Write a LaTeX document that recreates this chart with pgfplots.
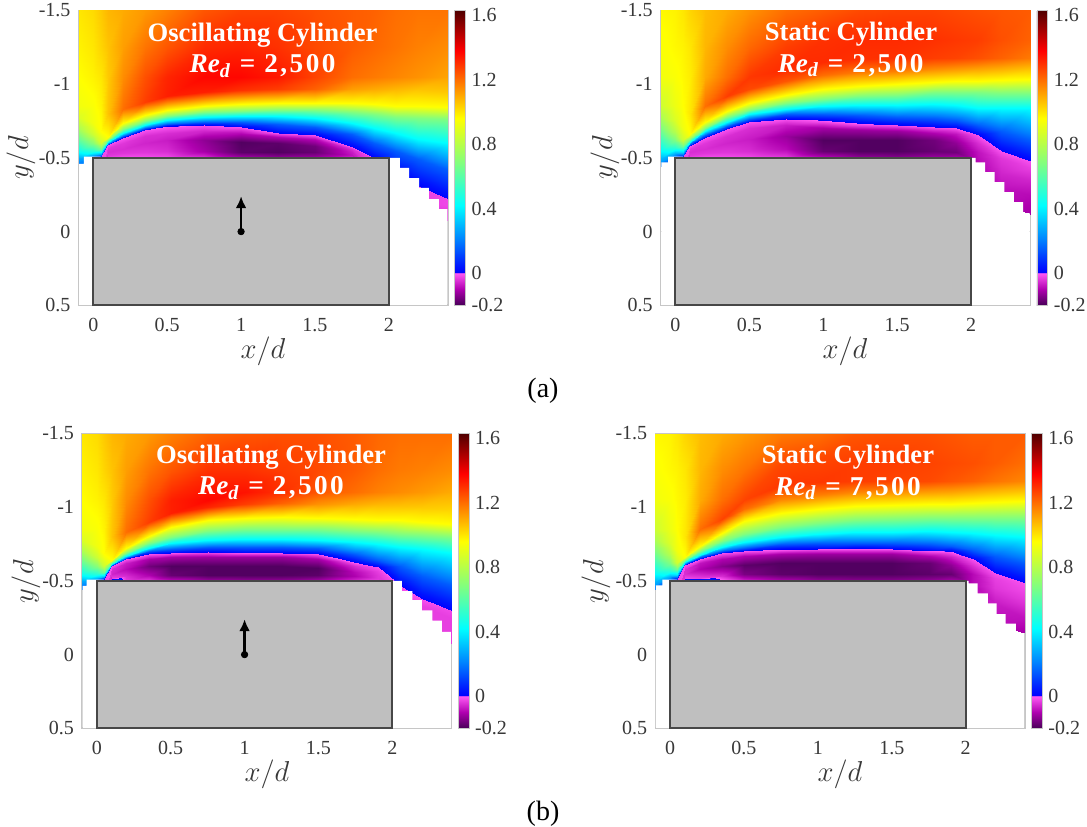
\documentclass[border=0pt]{standalone}
\usepackage[no-math]{fontspec}
\setmainfont{Liberation Serif}
\usepackage{pgfplots}
\usepackage{pgfplotstable}
\pgfplotsset{compat=1.18}
\usetikzlibrary{arrows.meta}
\pgfplotstableread[row sep=\\,header=false]{
-.1 -1.5 1\\ -.1 -1.25 .98\\ -.1 -1.05 .96\\ -.1 -.85 .93\\ -.1 -.78 .88\\ -.1 -.7 .78\\ -.1 -.62 .62\\ -.1 -.55 .45\\ -.1 -.5 .28\\ -.1 -.47 .22\\ -.1 -.46 .2\\ -.1 -.455 .2\\ -.1 -.45 .2\\ -.1 -.445 .2\\
0 -1.5 1.02\\ 0 -1.25 1\\ 0 -1.05 .98\\ 0 -.85 .95\\ 0 -.74 .93\\ 0 -.66 .85\\ 0 -.6 .7\\ 0 -.55 .5\\ 0 -.52 .3\\ 0 -.51 .25\\ 0 -.4 .2\\ 0 -.3 .2\\ 0 -.2 .2\\ 0 -.1 .2\\
.05 -1.5 1.05\\ .05 -1.25 1.03\\ .05 -1.05 1\\ .05 -.85 .98\\ .05 -.68 .96\\ .05 -.6 .85\\ .05 -.56 .65\\ .05 -.53 .35\\ .05 -.505 .02\\ .05 -.503 -.02\\ .05 -.4 -.03\\ .05 -.3 -.03\\ .05 -.2 -.03\\ .05 -.1 -.03\\
.1 -1.5 1.08\\ .1 -1.25 1.06\\ .1 -1.05 1.05\\ .1 -.8 1.06\\ .1 -.645 .96\\ .1 -.62 .68\\ .1 -.605 .42\\ .1 -.595 .15\\ .1 -.588 .005\\ .1 -.586 -.01\\ .1 -.57 -.04\\ .1 -.54 -.05\\ .1 -.52 -.04\\ .1 -.5 -.02\\
.2 -1.5 1.1\\ .2 -1.25 1.12\\ .2 -1.05 1.15\\ .2 -.83 1.2\\ .2 -.735 .96\\ .2 -.695 .68\\ .2 -.67 .42\\ .2 -.65 .15\\ .2 -.635 .005\\ .2 -.633 -.01\\ .2 -.6 -.04\\ .2 -.56 -.05\\ .2 -.53 -.04\\ .2 -.5 -.01\\
.35 -1.5 1.13\\ .35 -1.25 1.19\\ .35 -1.05 1.25\\ .35 -.88 1.28\\ .35 -.79 .96\\ .35 -.75 .68\\ .35 -.725 .42\\ .35 -.705 .15\\ .35 -.69 .005\\ .35 -.688 -.01\\ .35 -.65 -.05\\ .35 -.6 -.06\\ .35 -.54 -.04\\ .35 -.5 -.01\\
.5 -1.5 1.17\\ .5 -1.25 1.24\\ .5 -1.05 1.32\\ .5 -.92 1.33\\ .5 -.825 .96\\ .5 -.785 .68\\ .5 -.755 .42\\ .5 -.73 .15\\ .5 -.715 .005\\ .5 -.713 -.01\\ .5 -.67 -.05\\ .5 -.62 -.07\\ .5 -.55 -.05\\ .5 -.5 -.015\\
.75 -1.5 1.24\\ .75 -1.25 1.31\\ .75 -1.05 1.37\\ .75 -.95 1.33\\ .75 -.855 .96\\ .75 -.81 .68\\ .75 -.775 .42\\ .75 -.745 .15\\ .75 -.724 .005\\ .75 -.722 -.01\\ .75 -.68 -.06\\ .75 -.62 -.13\\ .75 -.55 -.11\\ .75 -.5 -.04\\
1 -1.5 1.27\\ 1 -1.25 1.32\\ 1 -1.05 1.37\\ 1 -.96 1.3\\ 1 -.865 .96\\ 1 -.815 .68\\ 1 -.785 .42\\ 1 -.745 .15\\ 1 -.712 .005\\ 1 -.71 -.01\\ 1 -.67 -.09\\ 1 -.61 -.19\\ 1 -.54 -.18\\ 1 -.5 -.1\\
1.25 -1.5 1.27\\ 1.25 -1.25 1.3\\ 1.25 -1.05 1.34\\ 1.25 -.97 1.28\\ 1.25 -.87 .96\\ 1.25 -.825 .68\\ 1.25 -.785 .42\\ 1.25 -.73 .15\\ 1.25 -.672 .005\\ 1.25 -.67 -.01\\ 1.25 -.64 -.1\\ 1.25 -.6 -.18\\ 1.25 -.54 -.19\\ 1.25 -.5 -.12\\
1.5 -1.5 1.25\\ 1.5 -1.25 1.26\\ 1.5 -1.05 1.27\\ 1.5 -.97 1.22\\ 1.5 -.875 .96\\ 1.5 -.825 .68\\ 1.5 -.77 .42\\ 1.5 -.71 .15\\ 1.5 -.657 .005\\ 1.5 -.655 -.01\\ 1.5 -.63 -.09\\ 1.5 -.58 -.16\\ 1.5 -.54 -.17\\ 1.5 -.5 -.11\\
1.75 -1.5 1.23\\ 1.75 -1.25 1.23\\ 1.75 -1.05 1.2\\ 1.75 -.97 1.12\\ 1.75 -.875 .96\\ 1.75 -.81 .68\\ 1.75 -.74 .42\\ 1.75 -.66 .15\\ 1.75 -.577 .005\\ 1.75 -.575 -.01\\ 1.75 -.56 -.05\\ 1.75 -.54 -.07\\ 1.75 -.52 -.08\\ 1.75 -.5 -.05\\
1.9 -1.5 1.22\\ 1.9 -1.25 1.21\\ 1.9 -1.05 1.18\\ 1.9 -.97 1.1\\ 1.9 -.865 .96\\ 1.9 -.795 .68\\ 1.9 -.7 .42\\ 1.9 -.6 .15\\ 1.9 -.5 .005\\ 1.9 -.498 -.01\\ 1.9 -.4 -.05\\ 1.9 -.3 -.05\\ 1.9 -.2 -.05\\ 1.9 -.1 -.05\\
2.05 -1.5 1.2\\ 2.05 -1.25 1.19\\ 2.05 -1.05 1.16\\ 2.05 -.97 1.08\\ 2.05 -.855 .96\\ 2.05 -.78 .68\\ 2.05 -.67 .42\\ 2.05 -.55 .15\\ 2.05 -.4 .005\\ 2.05 -.398 -.01\\ 2.05 -.3 -.03\\ 2.05 -.2 -.03\\ 2.05 -.1 -.03\\ 2.05 0 -.03\\
2.2 -1.5 1.19\\ 2.2 -1.25 1.17\\ 2.2 -1.05 1.14\\ 2.2 -.97 1.06\\ 2.2 -.85 .96\\ 2.2 -.77 .68\\ 2.2 -.63 .42\\ 2.2 -.49 .15\\ 2.2 -.31 .005\\ 2.2 -.308 -.02\\ 2.2 -.28 -.03\\ 2.2 -.2 -.03\\ 2.2 -.1 -.03\\ 2.2 0 -.03\\
2.4 -1.5 1.19\\ 2.4 -1.25 1.15\\ 2.4 -1.05 1.11\\ 2.4 -.95 1.05\\ 2.4 -.845 .96\\ 2.4 -.765 .68\\ 2.4 -.6 .42\\ 2.4 -.42 .15\\ 2.4 -.22 .005\\ 2.4 -.218 -.02\\ 2.4 -.18 -.02\\ 2.4 -.14 -.03\\ 2.4 -.11 -.03\\ 2.4 -.08 -.03\\
}\dataA
\pgfplotstableread[row sep=\\,header=false]{
-.1 -1.5 .97\\ -.1 -1.25 .95\\ -.1 -1.05 .93\\ -.1 -.85 .85\\ -.1 -.78 .78\\ -.1 -.7 .68\\ -.1 -.62 .55\\ -.1 -.55 .42\\ -.1 -.5 .3\\ -.1 -.47 .25\\ -.1 -.465 .2\\ -.1 -.46 .2\\ -.1 -.455 .2\\ -.1 -.45 .2\\
0 -1.5 .98\\ 0 -1.25 .97\\ 0 -1.05 .95\\ 0 -.85 .92\\ 0 -.76 .88\\ 0 -.68 .8\\ 0 -.62 .68\\ 0 -.57 .5\\ 0 -.53 .3\\ 0 -.51 .2\\ 0 -.4 .1\\ 0 -.3 .1\\ 0 -.2 .1\\ 0 -.1 .1\\
.05 -1.5 1\\ .05 -1.25 .98\\ .05 -1.05 .97\\ .05 -.85 .96\\ .05 -.7 .93\\ .05 -.62 .85\\ .05 -.58 .65\\ .05 -.54 .35\\ .05 -.505 .02\\ .05 -.503 -.02\\ .05 -.4 -.03\\ .05 -.3 -.03\\ .05 -.2 -.03\\ .05 -.1 -.03\\
.1 -1.5 1.03\\ .1 -1.25 1\\ .1 -1.05 .99\\ .1 -.8 1\\ .1 -.665 .96\\ .1 -.63 .68\\ .1 -.61 .42\\ .1 -.595 .15\\ .1 -.58 .005\\ .1 -.578 -.01\\ .1 -.56 -.04\\ .1 -.54 -.05\\ .1 -.52 -.04\\ .1 -.5 -.02\\
.2 -1.5 1.07\\ .2 -1.25 1.08\\ .2 -1.05 1.1\\ .2 -.85 1.2\\ .2 -.745 .96\\ .2 -.7 .68\\ .2 -.68 .42\\ .2 -.655 .15\\ .2 -.635 .005\\ .2 -.633 -.01\\ .2 -.6 -.04\\ .2 -.56 -.05\\ .2 -.53 -.04\\ .2 -.5 -.01\\
.35 -1.5 1.1\\ .35 -1.25 1.15\\ .35 -1.05 1.2\\ .35 -.92 1.28\\ .35 -.82 .96\\ .35 -.775 .68\\ .35 -.745 .42\\ .35 -.715 .15\\ .35 -.695 .005\\ .35 -.693 -.01\\ .35 -.65 -.05\\ .35 -.6 -.06\\ .35 -.54 -.04\\ .35 -.5 -.01\\
.5 -1.5 1.14\\ .5 -1.25 1.21\\ .5 -1.05 1.29\\ .5 -.97 1.26\\ .5 -.875 .96\\ .5 -.825 .68\\ .5 -.795 .42\\ .5 -.765 .15\\ .5 -.745 .005\\ .5 -.743 -.01\\ .5 -.7 -.05\\ .5 -.63 -.07\\ .5 -.55 -.05\\ .5 -.5 -.015\\
.75 -1.5 1.2\\ .75 -1.25 1.28\\ .75 -1.1 1.31\\ .75 -1.02 1.24\\ .75 -.93 .96\\ .75 -.87 .68\\ .75 -.83 .42\\ .75 -.795 .15\\ .75 -.767 .005\\ .75 -.765 -.01\\ .75 -.72 -.07\\ .75 -.65 -.12\\ .75 -.56 -.09\\ .75 -.5 -.03\\
1 -1.5 1.23\\ 1 -1.3 1.3\\ 1 -1.15 1.31\\ 1 -1.06 1.2\\ 1 -.965 .96\\ 1 -.9 .68\\ 1 -.85 .42\\ 1 -.8 .15\\ 1 -.755 .005\\ 1 -.753 -.01\\ 1 -.7 -.11\\ 1 -.62 -.19\\ 1 -.55 -.17\\ 1 -.5 -.08\\
1.25 -1.5 1.26\\ 1.25 -1.3 1.31\\ 1.25 -1.17 1.3\\ 1.25 -1.08 1.18\\ 1.25 -.985 .96\\ 1.25 -.92 .68\\ 1.25 -.86 .42\\ 1.25 -.79 .15\\ 1.25 -.735 .005\\ 1.25 -.733 -.01\\ 1.25 -.69 -.12\\ 1.25 -.62 -.19\\ 1.25 -.55 -.19\\ 1.25 -.5 -.12\\
1.5 -1.5 1.27\\ 1.5 -1.3 1.31\\ 1.5 -1.18 1.3\\ 1.5 -1.09 1.17\\ 1.5 -1 .96\\ 1.5 -.93 .68\\ 1.5 -.86 .42\\ 1.5 -.78 .15\\ 1.5 -.722 .005\\ 1.5 -.72 -.01\\ 1.5 -.68 -.12\\ 1.5 -.62 -.19\\ 1.5 -.55 -.19\\ 1.5 -.5 -.13\\
1.75 -1.5 1.27\\ 1.75 -1.3 1.3\\ 1.75 -1.18 1.28\\ 1.75 -1.1 1.15\\ 1.75 -1.015 .96\\ 1.75 -.945 .68\\ 1.75 -.865 .42\\ 1.75 -.77 .15\\ 1.75 -.71 .005\\ 1.75 -.708 -.01\\ 1.75 -.67 -.1\\ 1.75 -.62 -.16\\ 1.75 -.55 -.17\\ 1.75 -.5 -.11\\
1.9 -1.5 1.26\\ 1.9 -1.3 1.29\\ 1.9 -1.18 1.27\\ 1.9 -1.1 1.13\\ 1.9 -1.02 .96\\ 1.9 -.945 .68\\ 1.9 -.86 .42\\ 1.9 -.76 .15\\ 1.9 -.702 .005\\ 1.9 -.7 -.01\\ 1.9 -.66 -.08\\ 1.9 -.6 -.13\\ 1.9 -.54 -.16\\ 1.9 -.5 -.1\\
2.05 -1.5 1.25\\ 2.05 -1.3 1.28\\ 2.05 -1.18 1.25\\ 2.05 -1.1 1.11\\ 2.05 -1.025 .96\\ 2.05 -.945 .68\\ 2.05 -.84 .42\\ 2.05 -.72 .15\\ 2.05 -.655 .005\\ 2.05 -.653 -.01\\ 2.05 -.6 -.05\\ 2.05 -.54 -.08\\ 2.05 -.48 -.09\\ 2.05 -.4 -.08\\
2.2 -1.5 1.24\\ 2.2 -1.3 1.25\\ 2.2 -1.18 1.22\\ 2.2 -1.1 1.09\\ 2.2 -1.03 .96\\ 2.2 -.94 .68\\ 2.2 -.84 .42\\ 2.2 -.68 .15\\ 2.2 -.55 .005\\ 2.2 -.548 -.01\\ 2.2 -.5 -.04\\ 2.2 -.4 -.06\\ 2.2 -.3 -.08\\ 2.2 -.2 -.09\\
2.4 -1.5 1.23\\ 2.4 -1.3 1.22\\ 2.4 -1.18 1.18\\ 2.4 -1.1 1.06\\ 2.4 -1.035 .96\\ 2.4 -.94 .68\\ 2.4 -.84 .42\\ 2.4 -.62 .15\\ 2.4 -.478 .005\\ 2.4 -.476 -.01\\ 2.4 -.43 -.03\\ 2.4 -.35 -.06\\ 2.4 -.25 -.09\\ 2.4 -.12 -.11\\
}\dataB
\pgfplotstableread[row sep=\\,header=false]{
-.1 -1.5 1\\ -.1 -1.25 .98\\ -.1 -1.05 .96\\ -.1 -.85 .93\\ -.1 -.78 .88\\ -.1 -.7 .78\\ -.1 -.62 .62\\ -.1 -.55 .45\\ -.1 -.5 .28\\ -.1 -.47 .22\\ -.1 -.465 .2\\ -.1 -.46 .2\\ -.1 -.455 .2\\ -.1 -.45 .2\\
0 -1.5 1.02\\ 0 -1.25 1\\ 0 -1.05 .98\\ 0 -.85 .95\\ 0 -.74 .93\\ 0 -.66 .85\\ 0 -.6 .7\\ 0 -.55 .5\\ 0 -.52 .3\\ 0 -.51 .25\\ 0 -.4 .2\\ 0 -.3 .2\\ 0 -.2 .2\\ 0 -.1 .2\\
.05 -1.5 1.05\\ .05 -1.25 1.03\\ .05 -1.05 1\\ .05 -.85 .98\\ .05 -.68 .96\\ .05 -.6 .85\\ .05 -.56 .65\\ .05 -.53 .35\\ .05 -.51 .02\\ .05 -.508 -.02\\ .05 -.4 -.03\\ .05 -.3 -.03\\ .05 -.2 -.03\\ .05 -.1 -.03\\
.1 -1.5 1.08\\ .1 -1.25 1.06\\ .1 -1.05 1.05\\ .1 -.8 1.06\\ .1 -.645 .96\\ .1 -.625 .68\\ .1 -.615 .42\\ .1 -.605 .15\\ .1 -.6 .005\\ .1 -.598 -.01\\ .1 -.58 -.05\\ .1 -.55 -.06\\ .1 -.52 -.03\\ .1 -.5 .1\\
.2 -1.5 1.1\\ .2 -1.25 1.12\\ .2 -1.05 1.15\\ .2 -.83 1.2\\ .2 -.72 .96\\ .2 -.69 .68\\ .2 -.67 .42\\ .2 -.655 .15\\ .2 -.648 .005\\ .2 -.646 -.01\\ .2 -.62 -.07\\ .2 -.58 -.09\\ .2 -.53 -.05\\ .2 -.5 -.03\\
.35 -1.5 1.13\\ .35 -1.25 1.19\\ .35 -1.05 1.25\\ .35 -.9 1.28\\ .35 -.805 .96\\ .35 -.76 .68\\ .35 -.725 .42\\ .35 -.7 .15\\ .35 -.684 .005\\ .35 -.682 -.01\\ .35 -.65 -.11\\ .35 -.6 -.16\\ .35 -.54 -.1\\ .35 -.5 -.03\\
.5 -1.5 1.17\\ .5 -1.25 1.24\\ .5 -1.05 1.33\\ .5 -.96 1.33\\ .5 -.865 .96\\ .5 -.8 .68\\ .5 -.755 .42\\ .5 -.715 .15\\ .5 -.69 .005\\ .5 -.688 -.01\\ .5 -.66 -.11\\ .5 -.6 -.19\\ .5 -.54 -.17\\ .5 -.5 -.07\\
.75 -1.5 1.22\\ .75 -1.25 1.3\\ .75 -1.05 1.37\\ .75 -1 1.32\\ .75 -.915 .96\\ .75 -.84 .68\\ .75 -.78 .42\\ .75 -.73 .15\\ .75 -.695 .005\\ .75 -.693 -.01\\ .75 -.66 -.12\\ .75 -.6 -.19\\ .75 -.54 -.19\\ .75 -.5 -.11\\
1 -1.5 1.24\\ 1 -1.25 1.3\\ 1 -1.1 1.35\\ 1 -1.02 1.28\\ 1 -.93 .96\\ 1 -.85 .68\\ 1 -.785 .42\\ 1 -.73 .15\\ 1 -.692 .005\\ 1 -.69 -.01\\ 1 -.66 -.12\\ 1 -.6 -.19\\ 1 -.54 -.19\\ 1 -.5 -.12\\
1.25 -1.5 1.25\\ 1.25 -1.25 1.28\\ 1.25 -1.1 1.3\\ 1.25 -1.03 1.22\\ 1.25 -.935 .96\\ 1.25 -.855 .68\\ 1.25 -.785 .42\\ 1.25 -.73 .15\\ 1.25 -.689 .005\\ 1.25 -.687 -.01\\ 1.25 -.66 -.12\\ 1.25 -.6 -.19\\ 1.25 -.54 -.19\\ 1.25 -.5 -.12\\
1.5 -1.5 1.25\\ 1.5 -1.25 1.26\\ 1.5 -1.1 1.24\\ 1.5 -1.02 1.14\\ 1.5 -.925 .96\\ 1.5 -.85 .68\\ 1.5 -.78 .42\\ 1.5 -.72 .15\\ 1.5 -.682 .005\\ 1.5 -.68 -.01\\ 1.5 -.65 -.11\\ 1.5 -.59 -.19\\ 1.5 -.54 -.18\\ 1.5 -.5 -.1\\
1.75 -1.5 1.23\\ 1.75 -1.25 1.23\\ 1.75 -1.1 1.2\\ 1.75 -1.02 1.1\\ 1.75 -.92 .96\\ 1.75 -.84 .68\\ 1.75 -.765 .42\\ 1.75 -.68 .15\\ 1.75 -.625 .005\\ 1.75 -.623 -.01\\ 1.75 -.6 -.05\\ 1.75 -.56 -.09\\ 1.75 -.53 -.1\\ 1.75 -.5 -.05\\
1.9 -1.5 1.21\\ 1.9 -1.25 1.2\\ 1.9 -1.1 1.17\\ 1.9 -1.02 1.08\\ 1.9 -.915 .96\\ 1.9 -.83 .68\\ 1.9 -.75 .42\\ 1.9 -.64 .15\\ 1.9 -.595 .005\\ 1.9 -.593 -.01\\ 1.9 -.57 -.03\\ 1.9 -.54 -.04\\ 1.9 -.52 -.04\\ 1.9 -.5 -.03\\
2.05 -1.5 1.2\\ 2.05 -1.25 1.18\\ 2.05 -1.1 1.15\\ 2.05 -1.01 1.06\\ 2.05 -.91 .96\\ 2.05 -.82 .68\\ 2.05 -.73 .42\\ 2.05 -.6 .15\\ 2.05 -.47 .005\\ 2.05 -.468 -.01\\ 2.05 -.4 -.03\\ 2.05 -.3 -.03\\ 2.05 -.2 -.03\\ 2.05 -.1 -.03\\
2.2 -1.5 1.2\\ 2.2 -1.25 1.17\\ 2.2 -1.1 1.13\\ 2.2 -1 1.05\\ 2.2 -.9 .96\\ 2.2 -.81 .68\\ 2.2 -.715 .42\\ 2.2 -.53 .15\\ 2.2 -.38 .005\\ 2.2 -.378 -.01\\ 2.2 -.33 -.03\\ 2.2 -.25 -.03\\ 2.2 -.15 -.03\\ 2.2 -.05 -.03\\
2.4 -1.5 1.2\\ 2.4 -1.25 1.15\\ 2.4 -1.1 1.1\\ 2.4 -.98 1.03\\ 2.4 -.885 .96\\ 2.4 -.8 .68\\ 2.4 -.69 .42\\ 2.4 -.47 .15\\ 2.4 -.3 .005\\ 2.4 -.298 -.02\\ 2.4 -.25 -.03\\ 2.4 -.2 -.03\\ 2.4 -.12 -.03\\ 2.4 -.08 -.03\\
}\dataC
\pgfplotstableread[row sep=\\,header=false]{
-.1 -1.5 .97\\ -.1 -1.25 .95\\ -.1 -1.05 .93\\ -.1 -.85 .85\\ -.1 -.78 .78\\ -.1 -.7 .68\\ -.1 -.62 .55\\ -.1 -.55 .42\\ -.1 -.5 .3\\ -.1 -.47 .25\\ -.1 -.465 .2\\ -.1 -.46 .2\\ -.1 -.455 .2\\ -.1 -.45 .2\\
0 -1.5 .98\\ 0 -1.25 .97\\ 0 -1.05 .95\\ 0 -.85 .92\\ 0 -.76 .88\\ 0 -.68 .8\\ 0 -.62 .68\\ 0 -.57 .5\\ 0 -.53 .3\\ 0 -.51 .2\\ 0 -.4 .1\\ 0 -.3 .1\\ 0 -.2 .1\\ 0 -.1 .1\\
.05 -1.5 1\\ .05 -1.25 .98\\ .05 -1.05 .97\\ .05 -.85 .96\\ .05 -.7 .93\\ .05 -.62 .85\\ .05 -.58 .65\\ .05 -.54 .35\\ .05 -.51 .02\\ .05 -.508 -.02\\ .05 -.4 -.03\\ .05 -.3 -.03\\ .05 -.2 -.03\\ .05 -.1 -.03\\
.1 -1.5 1.03\\ .1 -1.25 1\\ .1 -1.05 .99\\ .1 -.8 1\\ .1 -.665 .96\\ .1 -.64 .68\\ .1 -.625 .42\\ .1 -.615 .15\\ .1 -.61 .005\\ .1 -.608 -.01\\ .1 -.58 -.05\\ .1 -.55 -.05\\ .1 -.52 -.02\\ .1 -.5 .1\\
.2 -1.5 1.07\\ .2 -1.25 1.08\\ .2 -1.05 1.1\\ .2 -.85 1.2\\ .2 -.74 .96\\ .2 -.7 .68\\ .2 -.675 .42\\ .2 -.66 .15\\ .2 -.65 .005\\ .2 -.648 -.01\\ .2 -.62 -.08\\ .2 -.58 -.1\\ .2 -.52 -.03\\ .2 -.5 .1\\
.35 -1.5 1.1\\ .35 -1.25 1.15\\ .35 -1.05 1.2\\ .35 -.92 1.27\\ .35 -.825 .96\\ .35 -.77 .68\\ .35 -.73 .42\\ .35 -.705 .15\\ .35 -.69 .005\\ .35 -.688 -.01\\ .35 -.65 -.1\\ .35 -.6 -.14\\ .35 -.53 -.05\\ .35 -.5 .02\\
.5 -1.5 1.13\\ .5 -1.25 1.19\\ .5 -1.05 1.27\\ .5 -.99 1.2\\ .5 -.905 .96\\ .5 -.82 .68\\ .5 -.765 .42\\ .5 -.725 .15\\ .5 -.703 .005\\ .5 -.701 -.01\\ .5 -.67 -.1\\ .5 -.61 -.18\\ .5 -.55 -.15\\ .5 -.5 -.05\\
.75 -1.5 1.18\\ .75 -1.3 1.26\\ .75 -1.15 1.29\\ .75 -1.05 1.15\\ .75 -.96 .96\\ .75 -.865 .68\\ .75 -.8 .42\\ .75 -.75 .15\\ .75 -.715 .005\\ .75 -.713 -.01\\ .75 -.68 -.11\\ .75 -.62 -.19\\ .75 -.55 -.18\\ .75 -.5 -.09\\
1 -1.5 1.2\\ 1 -1.3 1.27\\ 1 -1.17 1.29\\ 1 -1.08 1.17\\ 1 -.985 .96\\ 1 -.89 .68\\ 1 -.82 .42\\ 1 -.76 .15\\ 1 -.718 .005\\ 1 -.716 -.01\\ 1 -.68 -.12\\ 1 -.62 -.19\\ 1 -.55 -.19\\ 1 -.5 -.12\\
1.25 -1.5 1.24\\ 1.25 -1.3 1.28\\ 1.25 -1.18 1.28\\ 1.25 -1.1 1.16\\ 1.25 -1.005 .96\\ 1.25 -.91 .68\\ 1.25 -.83 .42\\ 1.25 -.76 .15\\ 1.25 -.72 .005\\ 1.25 -.718 -.01\\ 1.25 -.68 -.12\\ 1.25 -.62 -.19\\ 1.25 -.55 -.19\\ 1.25 -.5 -.13\\
1.5 -1.5 1.25\\ 1.5 -1.3 1.28\\ 1.5 -1.18 1.27\\ 1.5 -1.1 1.14\\ 1.5 -1.015 .96\\ 1.5 -.92 .68\\ 1.5 -.835 .42\\ 1.5 -.76 .15\\ 1.5 -.717 .005\\ 1.5 -.715 -.01\\ 1.5 -.68 -.12\\ 1.5 -.62 -.19\\ 1.5 -.55 -.19\\ 1.5 -.5 -.13\\
1.75 -1.5 1.25\\ 1.75 -1.3 1.27\\ 1.75 -1.18 1.26\\ 1.75 -1.1 1.12\\ 1.75 -1.02 .96\\ 1.75 -.925 .68\\ 1.75 -.84 .42\\ 1.75 -.75 .15\\ 1.75 -.705 .005\\ 1.75 -.703 -.01\\ 1.75 -.67 -.1\\ 1.75 -.62 -.17\\ 1.75 -.55 -.18\\ 1.75 -.5 -.12\\
1.9 -1.5 1.24\\ 1.9 -1.3 1.26\\ 1.9 -1.18 1.24\\ 1.9 -1.1 1.11\\ 1.9 -1.025 .96\\ 1.9 -.93 .68\\ 1.9 -.835 .42\\ 1.9 -.74 .15\\ 1.9 -.7 .005\\ 1.9 -.698 -.01\\ 1.9 -.66 -.07\\ 1.9 -.61 -.13\\ 1.9 -.55 -.17\\ 1.9 -.5 -.1\\
2.05 -1.5 1.23\\ 2.05 -1.3 1.25\\ 2.05 -1.18 1.22\\ 2.05 -1.1 1.09\\ 2.05 -1.03 .96\\ 2.05 -.93 .68\\ 2.05 -.825 .42\\ 2.05 -.71 .15\\ 2.05 -.65 .005\\ 2.05 -.648 -.01\\ 2.05 -.6 -.05\\ 2.05 -.55 -.09\\ 2.05 -.48 -.09\\ 2.05 -.4 -.07\\
2.2 -1.5 1.23\\ 2.2 -1.3 1.23\\ 2.2 -1.18 1.19\\ 2.2 -1.1 1.07\\ 2.2 -1.035 .96\\ 2.2 -.93 .68\\ 2.2 -.81 .42\\ 2.2 -.67 .15\\ 2.2 -.555 .005\\ 2.2 -.553 -.01\\ 2.2 -.52 -.03\\ 2.2 -.45 -.04\\ 2.2 -.35 -.07\\ 2.2 -.2 -.09\\
2.4 -1.5 1.23\\ 2.4 -1.3 1.2\\ 2.4 -1.18 1.16\\ 2.4 -1.1 1.05\\ 2.4 -1.04 .96\\ 2.4 -.925 .68\\ 2.4 -.8 .42\\ 2.4 -.62 .15\\ 2.4 -.488 .005\\ 2.4 -.486 -.01\\ 2.4 -.44 -.02\\ 2.4 -.36 -.04\\ 2.4 -.25 -.08\\ 2.4 -.145 -.11\\
}\dataD
\definecolor{axgrey}{HTML}{C6C6C6}
\definecolor{txt}{HTML}{383838}
\pgfplotsset{
 colormap={fld}{
  rgb255(0)=(72,0,88) rgb255(100)=(175,0,175) rgb255(200)=(255,90,245)
  rgb255(201)=(0,0,255) rgb255(240)=(0,20,255) rgb255(400)=(0,125,255) rgb255(620)=(0,255,255)
  rgb255(880)=(128,255,128) rgb255(1160)=(255,255,0) rgb255(1370)=(255,128,0)
  rgb255(1580)=(255,0,0) rgb255(1830)=(80,0,0)},
 panel/.style={
  scale only axis, width=184.75pt, height=147.4pt,
  xmin=-0.1, xmax=2.4, ymin=-1.5, ymax=0.5, y dir=reverse,
  xtick={0,0.5,1,1.5,2}, xticklabels={0,0.5,1,1.5,2},
  ytick={-1.5,-1,-0.5,0,0.5}, yticklabels={-1.5,-1,-0.5,0,0.5},
  tick align=inside, major tick length=2pt,
  every tick/.style={axgrey,line width=0.5pt},
  axis line style={axgrey,line width=0.7pt},
  tick label style={font=\fontsize{10}{12}\selectfont,text=txt},
  xticklabel style={yshift=-3pt},
  yticklabel style={xshift=-0.5pt},
  clip=false,
  point meta min=-0.2, point meta max=1.63,
  colormap name=fld,
  colorbar,
  colorbar style={
    width=5.4pt, height=147.4pt, xshift=-5.5pt,
    ytick={-0.2,0,0.4,0.8,1.2,1.6}, yticklabels={-0.2,0,0.4,0.8,1.2,1.6},
    major tick length=0pt,
    axis line style={axgrey,line width=0.4pt},
    tick label style={font=\fontsize{10}{12}\selectfont,text=txt},
    yticklabel style={xshift=-0.5pt},
  },
 },
 field/.style={surf,shader=interp,mesh/rows=14,mesh/cols=16,mesh/ordering=y varies,point meta=explicit,forget plot},
 cyl/.style={draw=black!72,fill=black!25,line width=1pt},
 mask/.style={draw=none,fill=white},
}
\newcommand{\panellabel}[3]{\node[font=\fontsize{15}{17}\selectfont,text=txt] at (#1pt,#2pt) {#3};}
\newcommand{\reline}[1]{{\fontsize{13.6}{15}\selectfont\bfseries\itshape Re\raisebox{-2.2pt}{\fontsize{10}{12}\selectfont d}\hspace{5pt}\upshape =\hspace{4.5pt}\addfontfeature{LetterSpace=9}#1}}
\begin{document}
\begin{tikzpicture}
\path[use as bounding box] (0pt,0pt) rectangle (543.5pt,413pt);
% (a) left
\begin{axis}[panel,at={(39.25pt,260.35pt)},anchor=south west]
\addplot[field] table[x index=0,y index=1,meta index=2] {\dataA};
\addplot[mask] coordinates {(-.096,.49)(-.096,-.46)(-.063,-.46)(-.063,-.508)(.05,-.508)(.05,-.5)(2.075,-.5)(2.075,-.432)(2.137,-.432)(2.137,-.362)(2.205,-.362)(2.205,-.296)(2.27,-.296)(2.27,-.22)(2.338,-.22)(2.338,-.153)(2.396,-.153)(2.396,.49)} -- cycle;
\addplot[cyl] coordinates {(0,-.5)(2,-.5)(2,.5)(0,.5)} -- cycle;
\addplot[black,line width=1.3pt,-{Latex[length=6pt,width=5.5pt]}] coordinates {(1,0)(1,-.24)};
\addplot[only marks,mark=*,mark size=1.6pt,black] coordinates {(1,0)};
\end{axis}
% (a) right
\begin{axis}[panel,at={(330.35pt,260.35pt)},anchor=south west]
\addplot[field] table[x index=0,y index=1,meta index=2] {\dataB};
\addplot[mask] coordinates {(-.096,.49)(-.096,-.47)(-.05,-.47)(-.05,-.508)(.05,-.508)(.05,-.5)(2.03,-.5)(2.03,-.47)(2.095,-.47)(2.095,-.403)(2.16,-.403)(2.16,-.335)(2.225,-.335)(2.225,-.267)(2.29,-.267)(2.29,-.2)(2.352,-.2)(2.352,-.125)(2.396,-.125)(2.396,.49)} -- cycle;
\addplot[cyl] coordinates {(0,-.5)(2,-.5)(2,.5)(0,.5)} -- cycle;
\end{axis}
% (b) left
\begin{axis}[panel,at={(41pt,48.85pt)},anchor=south west]
\addplot[field] table[x index=0,y index=1,meta index=2] {\dataC};
\addplot[mask] coordinates {(-.096,.49)(-.096,-.467)(-.068,-.467)(-.068,-.508)(.05,-.508)(.05,-.5)(2.065,-.5)(2.065,-.43)(2.135,-.43)(2.135,-.37)(2.2,-.37)(2.2,-.3)(2.27,-.3)(2.27,-.23)(2.335,-.23)(2.335,-.155)(2.396,-.155)(2.396,.49)} -- cycle;
\addplot[cyl] coordinates {(0,-.5)(2,-.5)(2,.5)(0,.5)} -- cycle;
\addplot[black,line width=1.3pt,-{Latex[length=6pt,width=5.5pt]}] coordinates {(1,0)(1,-.24)};
\addplot[only marks,mark=*,mark size=1.6pt,black] coordinates {(1,0)};
\end{axis}
% (b) right
\begin{axis}[panel,at={(327.65pt,48.85pt)},anchor=south west]
\addplot[field] table[x index=0,y index=1,meta index=2] {\dataD};
\addplot[mask] coordinates {(-.096,.49)(-.096,-.47)(-.052,-.47)(-.052,-.508)(.05,-.508)(.05,-.5)(2.02,-.5)(2.02,-.483)(2.08,-.483)(2.08,-.415)(2.15,-.415)(2.15,-.347)(2.21,-.347)(2.21,-.275)(2.27,-.275)(2.27,-.21)(2.34,-.21)(2.34,-.145)(2.396,-.145)(2.396,.49)} -- cycle;
\addplot[cyl] coordinates {(0,-.5)(2,-.5)(2,.5)(0,.5)} -- cycle;
\end{axis}
% labels
\panellabel{131.5}{237.5}{$x/d$}
\panellabel{422.5}{237.5}{$x/d$}
\panellabel{133.5}{26}{$x/d$}
\panellabel{420}{26}{$x/d$}
\node[rotate=90,font=\fontsize{15}{17}\selectfont,text=txt] at (10.5pt,334pt) {$y/d$};
\node[rotate=90,font=\fontsize{15}{17}\selectfont,text=txt] at (302.5pt,334pt) {$y/d$};
\node[rotate=90,font=\fontsize{15}{17}\selectfont,text=txt] at (13pt,122pt) {$y/d$};
\node[rotate=90,font=\fontsize{15}{17}\selectfont,text=txt] at (298pt,122pt) {$y/d$};
\node[font=\fontsize{14}{16}\selectfont] at (271.5pt,217.5pt) {(a)};
\node[font=\fontsize{14}{16}\selectfont] at (271.5pt,6pt) {(b)};
\tikzset{ttl/.style={text=white,font=\fontsize{13.3}{15}\selectfont\bfseries},re/.style={text=white}}
\node[ttl] at (131.3pt,395.3pt) {Oscillating Cylinder};
\node[re] at (131.3pt,380pt) {\reline{2,500}};
\node[ttl] at (425.5pt,395.8pt) {Static Cylinder};
\node[re] at (425.3pt,380.3pt) {\reline{2,500}};
\node[ttl] at (135.5pt,184.5pt) {Oscillating Cylinder};
\node[re] at (135.5pt,169pt) {\reline{2,500}};
\node[ttl] at (424pt,184.3pt) {Static Cylinder};
\node[re] at (424pt,168.7pt) {\reline{7,500}};
\end{tikzpicture}
\end{document}
